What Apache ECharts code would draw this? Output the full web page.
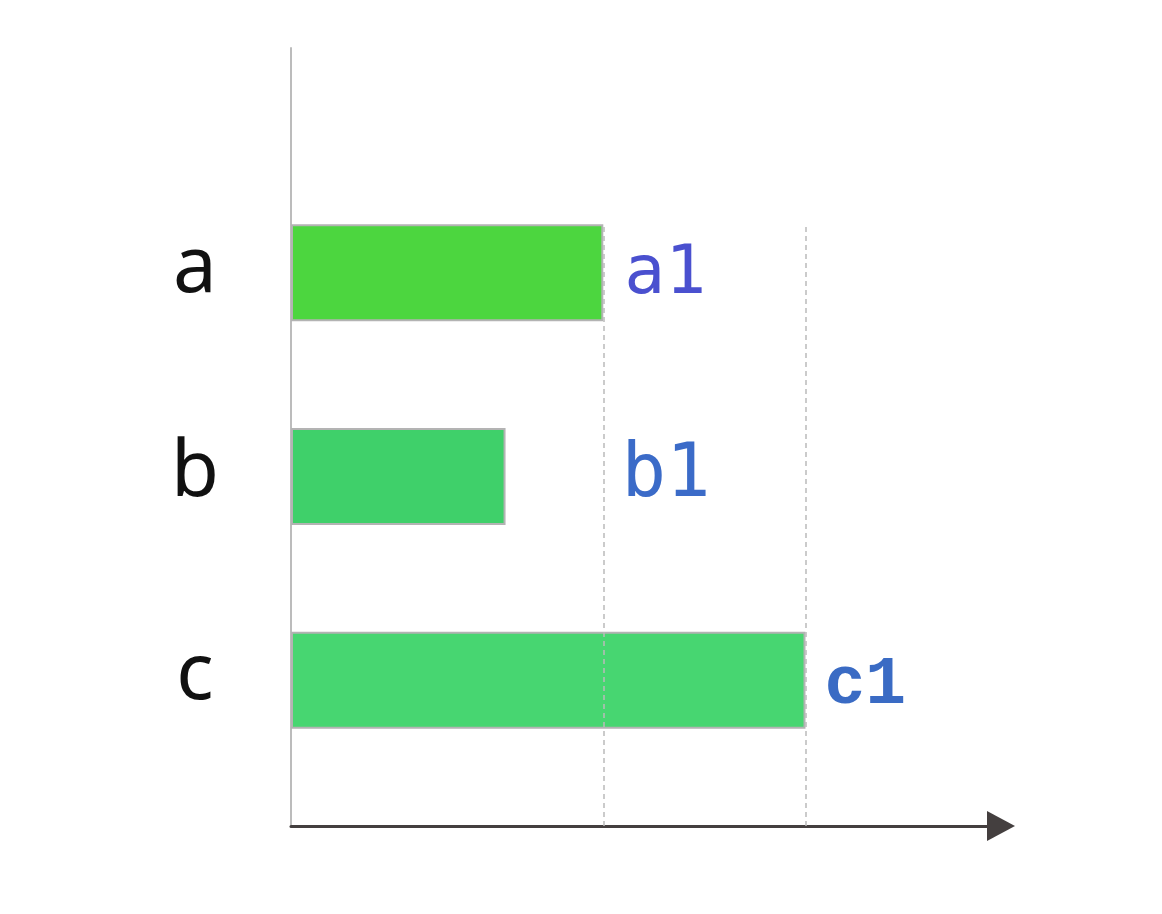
<!DOCTYPE html>
<html>
<head>
<meta charset="utf-8">
<script src="https://cdn.jsdelivr.net/npm/echarts@6/dist/echarts.min.js"></script>
<style>html,body{margin:0;padding:0;background:#fff;}#c{width:1162px;height:914px;}</style>
</head>
<body>
<div id="c"></div>
<script>
var categories = ['a', 'b', 'c'];
var values = [6.07, 4.17, 10];
var labels = ['a1', 'b1', 'c1'];
var barColors = ['#4cd63f', '#3fd06a', '#47d671'];
var labelColors = ['#4a50cf', '#3b6bc8', '#3a6bc4'];
var dropLineValues = [6.07, 10];
var xMax = 13.8;

var labelFonts = [
  {fontFamily: 'DejaVu Sans Mono', fontSize: 68, fontWeight: 'normal'},
  {fontFamily: 'DejaVu Sans Mono', fontSize: 74, fontWeight: 'normal'},
  {fontFamily: 'Liberation Mono', fontSize: 68, fontWeight: 'bold'}
];
var labelOffsets = [[-1, 2], [94, 0], [-3, 6]];

var chart = echarts.init(document.getElementById('c'), null, {renderer: 'canvas'});

var barData = values.map(function (v, i) {
  return {
    value: v,
    itemStyle: {color: barColors[i]},
    label: Object.assign({
      show: true,
      position: 'right',
      distance: 22,
      formatter: labels[i],
      color: labelColors[i],
      offset: labelOffsets[i]
    }, labelFonts[i])
  };
});

var dropTop = 77.1;
var markData = dropLineValues.map(function (v) {
  return [{coord: [v, 0]}, {coord: [v, dropTop]}];
});

chart.setOption({
  animation: false,
  backgroundColor: '#ffffff',
  grid: [
    {left: 291, top: 48, right: 161, bottom: 88},
    {left: 291, top: 171, right: 161, bottom: 132}
  ],
  xAxis: [
    {
      gridIndex: 0, type: 'value', min: 0, max: xMax,
      axisLine: {show: true, onZero: false, symbol: ['none', 'triangle'], symbolSize: [30, 28],
        lineStyle: {color: '#443f3f', width: 3}},
      axisTick: {show: false}, axisLabel: {show: false}, splitLine: {show: false}
    },
    {
      gridIndex: 1, type: 'value', min: 0, max: xMax, show: false
    }
  ],
  yAxis: [
    {
      gridIndex: 0, type: 'value', min: 0, max: 100,
      axisLine: {show: true, onZero: false, lineStyle: {color: '#bcbcbc', width: 2}},
      axisTick: {show: false}, axisLabel: {show: false}, splitLine: {show: false}
    },
    {
      gridIndex: 1, type: 'category', data: categories, inverse: true,
      axisLine: {show: false}, axisTick: {show: false}, splitLine: {show: false},
      axisLabel: {
        show: true, margin: 96, align: 'center', verticalAlign: 'bottom', lineHeight: 6,
        fontFamily: 'Noto Sans', fontSize: 78, color: '#111111'
      }
    }
  ],
  series: [
    {
      type: 'line', xAxisIndex: 0, yAxisIndex: 0, data: [], z: 1,
      markLine: {
        silent: true, symbol: ['none', 'none'], label: {show: false},
        lineStyle: {color: '#bbbbbb', type: [5, 4], width: 1.5},
        data: markData
      }
    },
    {
      type: 'bar', xAxisIndex: 1, yAxisIndex: 1, barWidth: 97, z: 3,
      itemStyle: {borderColor: '#b3b3b3', borderWidth: 2},
      data: barData
    }
  ]
});
</script>
</body>
</html>
